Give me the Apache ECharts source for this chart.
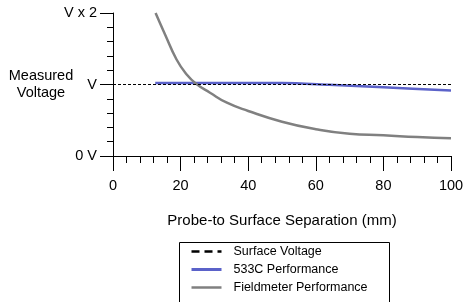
<!DOCTYPE html>
<html>
<head>
<meta charset="utf-8">
<script src="https://cdn.jsdelivr.net/npm/echarts@6/dist/echarts.min.js"></script>
<style>
  html, body { margin: 0; padding: 0; background: #fff; }
  #main { width: 465px; height: 302px; }
</style>
</head>
<body>
<div id="main"></div>
<script>
// separation in mm
var surfaceX = [0, 100];
var surfaceY = [1, 1];

var perfX = [12.5, 30, 50, 64, 80, 100];
var perfY = [1.02, 1.02, 1.02, 0.995, 0.96, 0.915];

var fieldX = [12.6, 15.4, 18.8, 21.8, 24.6, 28.7, 33.7, 40, 50, 60, 70, 80, 90, 100];
var fieldY = [2.0, 1.70, 1.35, 1.14, 1.01, 0.885, 0.745, 0.63, 0.48, 0.375, 0.31, 0.29, 0.265, 0.248];

var yTickLabels = { 0: '0 V', 1: 'V', 2: 'V x 2' };

function pairs(xs, ys) {
  return xs.map(function (x, i) { return [x, ys[i]]; });
}

var font = 'Liberation Sans, Arial, sans-serif';
var chart = echarts.init(document.getElementById('main'), null, { renderer: 'canvas' });

chart.setOption({
  animation: false,
  grid: { left: 113, right: 14, top: 13, bottom: 146, containLabel: false, outerBoundsMode: 'none' },
  xAxis: {
    type: 'value', min: 0, max: 100, interval: 20,
    name: 'Probe-to Surface Separation (mm)',
    nameLocation: 'middle', nameGap: 57, nameMoveOverlap: false,
    nameTextStyle: { color: '#000', fontSize: 15, fontFamily: font },
    axisLine: { lineStyle: { color: '#000', width: 1 } },
    axisTick: { length: 15, lineStyle: { color: '#000' } },
    minorTick: { show: true, splitNumber: 5, length: 7, lineStyle: { color: '#000' } },
    axisLabel: { color: '#000', fontSize: 14.5, fontFamily: font, margin: 22 },
    splitLine: { show: false }
  },
  yAxis: {
    type: 'value', min: 0, max: 2, interval: 1,
    name: 'Measured\nVoltage',
    nameLocation: 'middle', nameRotate: 0, nameGap: 72, nameMoveOverlap: false,
    nameTextStyle: { color: '#000', fontSize: 14.5, fontFamily: font, align: 'center', lineHeight: 17 },
    axisLine: { show: true, lineStyle: { color: '#000', width: 1 } },
    axisTick: { show: true, length: 13, lineStyle: { color: '#000' } },
    minorTick: { show: true, splitNumber: 5, length: 6, lineStyle: { color: '#000' } },
    axisLabel: {
      color: '#000', fontSize: 14.5, fontFamily: font, margin: 16,
      formatter: function (v) { return yTickLabels[v] || ''; }
    },
    splitLine: { show: false }
  },
  legend: {
    orient: 'vertical', left: 190, top: 245,
    padding: 0, itemGap: 5,
    itemWidth: 30, itemHeight: 14,
    itemStyle: { opacity: 0 },
    textStyle: { color: '#000', fontSize: 12.5, fontFamily: font, padding: [0, 0, 0, 7] },
    data: [
      { name: 'Surface Voltage', lineStyle: { type: [8, 5], width: 2.5, color: '#000' } },
      { name: '533C Performance', lineStyle: { width: 3, color: '#5b62c9' } },
      { name: 'Fieldmeter Performance', lineStyle: { width: 2.5, color: '#808080' } }
    ]
  },
  graphic: [{
    type: 'rect', left: 177, top: 240, silent: true,
    shape: { width: 210, height: 80 },
    style: { fill: 'none', stroke: '#000', lineWidth: 1 }
  }],
  series: [
    {
      name: 'Surface Voltage', type: 'line', symbol: 'none',
      data: pairs(surfaceX, surfaceY),
      lineStyle: { color: '#000', width: 1, type: [3, 2] },
      itemStyle: { color: '#000' }, z: 5
    },
    {
      name: '533C Performance', type: 'line', symbol: 'none', smooth: 0.3,
      data: pairs(perfX, perfY),
      lineStyle: { color: '#5b62c9', width: 2.5 },
      itemStyle: { color: '#5b62c9' }, z: 3
    },
    {
      name: 'Fieldmeter Performance', type: 'line', symbol: 'none', smooth: 0.5,
      data: pairs(fieldX, fieldY),
      lineStyle: { color: '#808080', width: 2.5 },
      itemStyle: { color: '#808080' }, z: 4
    }
  ]
});
</script>
</body>
</html>
